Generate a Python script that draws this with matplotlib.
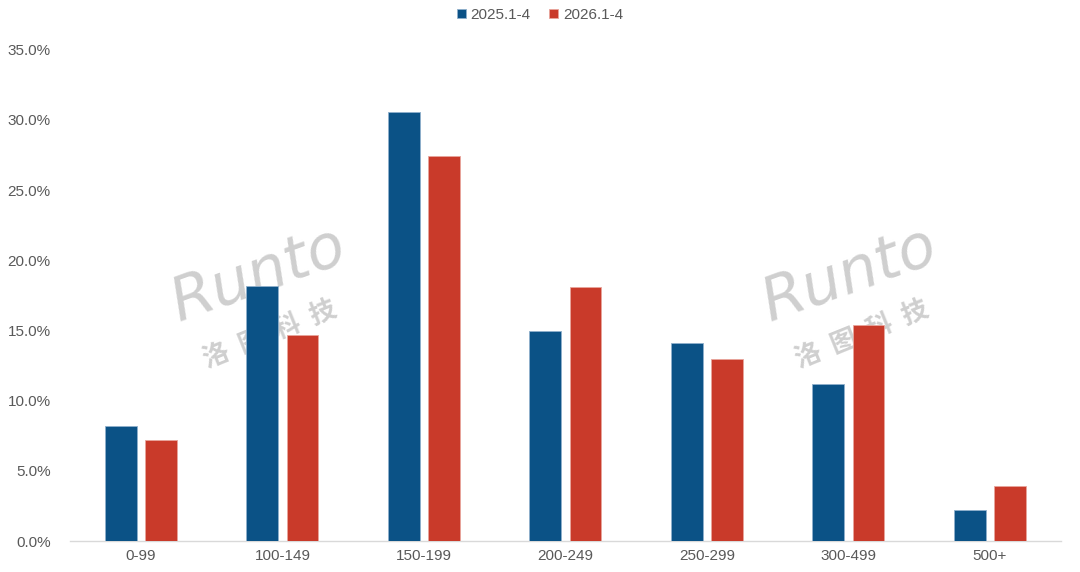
import numpy as np
import matplotlib.pyplot as plt
from matplotlib.ticker import FuncFormatter

plt.rcParams["font.family"] = ["Liberation Sans", "DejaVu Sans"]

# データ
categories = ["0-99", "100-149", "150-199", "200-249", "250-299", "300-499", "500+"]
series_names = ["2025.1-4", "2026.1-4"]
share_2025 = [8.2, 18.2, 30.6, 15.0, 14.1, 11.2, 2.2]
share_2026 = [7.2, 14.7, 27.4, 18.1, 13.0, 15.4, 3.9]
yticks = [0, 5, 10, 15, 20, 25, 30, 35]

blue = "#0B5286"
red = "#C93A2A"
grey = "#595959"
wm = "#CFCFCF"

fig = plt.figure(figsize=(10.8, 5.72), dpi=100)
ax = fig.add_axes([0.065, 0.054, 0.917, 0.859])

x = np.arange(len(categories))
w = 0.225
ax.bar(x - 0.142, share_2025, w, color=blue, edgecolor="#8FB0CC", linewidth=0.6,
       label=series_names[0], zorder=3)
ax.bar(x + 0.142, share_2026, w, color=red, edgecolor="#E8A59C", linewidth=0.6,
       label=series_names[1], zorder=3)

ax.set_xlim(-0.5, len(categories) - 0.5)
ax.set_ylim(0, 35)
ax.set_yticks(yticks)
ax.yaxis.set_major_formatter(FuncFormatter(lambda v, p: f"{v:.1f}%"))
ax.set_xticks(x)
ax.set_xticklabels(categories)

for s in ["top", "right", "left"]:
    ax.spines[s].set_visible(False)
ax.spines["bottom"].set_color("#D9D9D9")
ax.spines["bottom"].set_linewidth(1.0)
ax.tick_params(axis="both", length=0, colors=grey, labelsize=11)
ax.tick_params(axis="x", pad=6)
ax.tick_params(axis="y", pad=14)

# ウォーターマーク（棒の後ろ）
for cx in [0.19, 0.787]:
    ax.text(cx, 0.54, "Runto", transform=ax.transAxes, fontsize=44, color=wm,
            style="italic", weight="light", family=["DejaVu Sans"],
            rotation=20, ha="center", va="center", zorder=1)
    ax.text(cx + 0.012, 0.42, "洛  图  科  技", transform=ax.transAxes, fontsize=19,
            color=wm, family=["Noto Sans CJK SC"], weight="bold",
            rotation=22, ha="center", va="center", zorder=1)

fig.legend(loc="upper center", bbox_to_anchor=(0.5, 1.01), ncol=2, frameon=False,
           fontsize=11, labelcolor=grey, handlelength=0.6, handleheight=0.6,
           handletextpad=0.3, columnspacing=1.2)

fig.savefig("out.png", dpi=100)
